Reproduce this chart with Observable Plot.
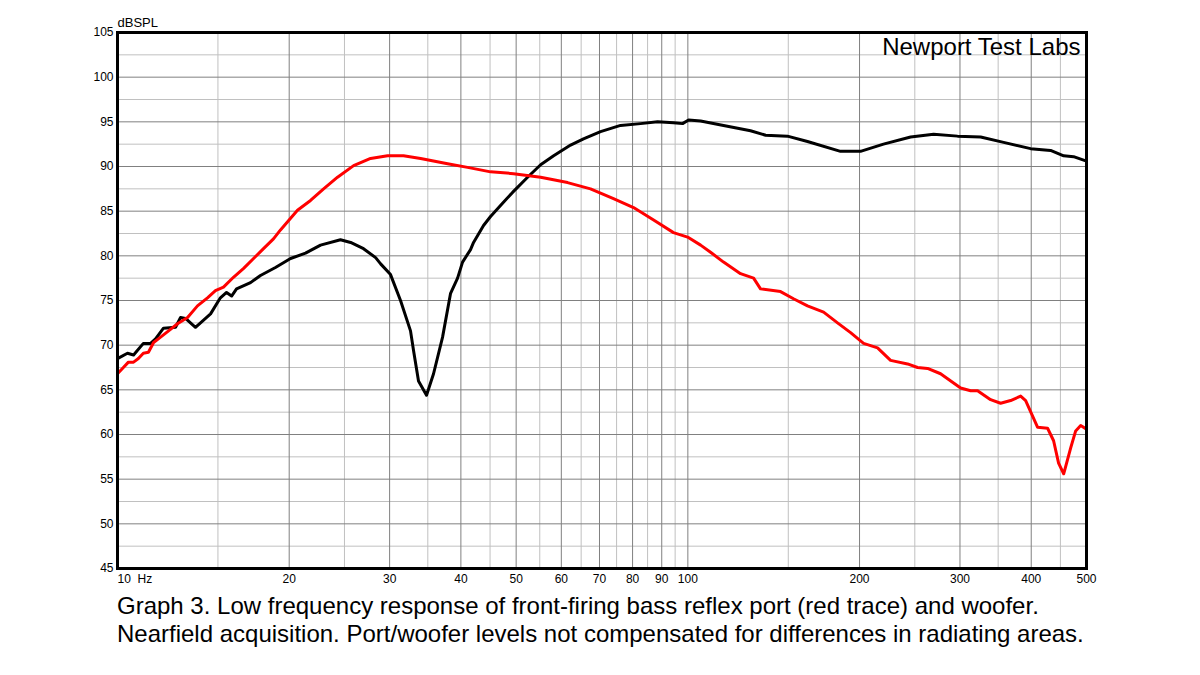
<!DOCTYPE html>
<html>
<head>
<meta charset="utf-8">
<script src="https://cdn.jsdelivr.net/npm/d3@7"></script>
<script src="https://cdn.jsdelivr.net/npm/@observablehq/plot@0.6"></script>
<style>
  body { margin: 0; background: #fff; font-family: "Liberation Sans", Arial, Helvetica, sans-serif; }
  #caption { margin-left: 117px; font-size: 24px; line-height: 28px; color: #000; margin-top: 2px; white-space: nowrap; }
</style>
</head>
<body>
<div id="chart"></div>
<div id="caption">Graph 3. Low frequency response of front-firing bass reflex port (red trace) and woofer.<br>Nearfield acquisition. Port/woofer levels not compensated for differences in radiating areas.</div>
<script>
// Woofer (black trace): frequency (Hz) and level (dB SPL)
const wooferFreq = [10, 10.41, 10.67, 11.10, 11.43, 11.66, 12.04, 12.64, 12.90, 13.16, 13.70, 14.56, 15.15, 15.53, 15.85, 16.17, 17.11, 17.81, 18.92, 20.11, 21.36, 22.70, 24.60, 25.63, 27.00, 28.35, 28.93, 30.11, 31.35, 32.64, 33.04, 33.71, 34.82, 35.82, 37.15, 38.37, 39.47, 40.27, 41.59, 42.10, 43.83, 45.09, 47.33, 49.28, 52.36, 55.19, 58.17, 62.29, 65.62, 70.30, 76.21, 82.61, 88.49, 94.38, 97.88, 100.3, 105.3, 115.5, 128.8, 136.9, 149.5, 162.1, 185.2, 200.8, 220.3, 245.8, 269.7, 297.1, 326.1, 357.8, 399.0, 432.5, 456.0, 474.6, 500];
const wooferDb = [68.5, 69.1, 68.9, 70.2, 70.2, 70.7, 71.9, 72.0, 73.1, 73.0, 72.0, 73.5, 75.3, 75.9, 75.5, 76.3, 77.0, 77.8, 78.7, 79.7, 80.3, 81.2, 81.8, 81.5, 80.8, 79.8, 79.1, 77.9, 75.0, 71.6, 69.4, 66.0, 64.4, 66.8, 70.9, 75.8, 77.5, 79.3, 80.7, 81.5, 83.4, 84.4, 85.9, 87.1, 88.8, 90.2, 91.2, 92.4, 93.1, 93.9, 94.6, 94.8, 95.0, 94.9, 94.8, 95.2, 95.1, 94.6, 94.0, 93.5, 93.4, 92.8, 91.7, 91.7, 92.5, 93.3, 93.6, 93.4, 93.3, 92.7, 92.0, 91.8, 91.2, 91.1, 90.6];

// Port (red trace): frequency (Hz) and level (dB SPL)
const portFreq = [10, 10.24, 10.45, 10.67, 10.88, 11.10, 11.33, 11.57, 11.90, 12.29, 12.74, 13.27, 13.81, 14.38, 14.85, 15.34, 15.97, 16.64, 17.32, 18.03, 18.77, 19.31, 20.68, 21.80, 22.98, 24.31, 25.94, 27.78, 29.75, 31.73, 34.00, 37.91, 41.09, 45.09, 49.48, 55.19, 61.53, 67.50, 74.06, 80.31, 87.09, 94.38, 99.89, 105.3, 109.6, 115.5, 123.7, 130.4, 134.1, 145.4, 153.2, 162.1, 173.0, 183.0, 192.9, 203.3, 215.1, 226.7, 242.8, 252.8, 263.2, 277.4, 300.8, 313.2, 322.1, 339.5, 353.5, 368.1, 383.3, 391.1, 410.5, 427.3, 437.8, 446.7, 456.0, 469.1, 478.6, 488.4, 500];
const portDb = [66.8, 67.5, 68.1, 68.1, 68.5, 69.1, 69.2, 70.3, 70.9, 71.6, 72.4, 73.1, 74.4, 75.3, 76.1, 76.5, 77.6, 78.6, 79.7, 80.8, 81.9, 82.9, 85.1, 86.2, 87.5, 88.8, 90.1, 90.9, 91.2, 91.2, 90.9, 90.3, 89.9, 89.4, 89.2, 88.8, 88.2, 87.5, 86.4, 85.4, 84.0, 82.6, 82.1, 81.2, 80.4, 79.3, 78.0, 77.5, 76.3, 76.0, 75.2, 74.4, 73.7, 72.5, 71.4, 70.2, 69.7, 68.3, 67.9, 67.5, 67.4, 66.8, 65.2, 64.9, 64.9, 63.9, 63.5, 63.8, 64.3, 63.8, 60.8, 60.7, 59.3, 56.8, 55.6, 58.5, 60.4, 61.0, 60.6];

// Axis ticks and grid
const xTickLabels = [20, 30, 40, 50, 60, 70, 80, 90, 100, 200, 300, 400, 500];
const xMajorGrid = [20, 30, 40, 50, 60, 70, 80, 90, 100, 200, 300, 400];
const xMinorGrid = [15, 25, 35, 45, 55, 65, 75, 85, 95, 150, 250, 350, 450];
const yTicks = [45, 50, 55, 60, 65, 70, 75, 80, 85, 90, 95, 100, 105];
const yMinorGrid = [47.5, 52.5, 57.5, 62.5, 67.5, 72.5, 77.5, 82.5, 87.5, 92.5, 97.5, 102.5];

const woofer = wooferFreq.map((f, i) => ({f, db: wooferDb[i]}));
const port = portFreq.map((f, i) => ({f, db: portDb[i]}));

const font = "'Liberation Sans', Arial, Helvetica, sans-serif";

const chart = Plot.plot({
  width: 1200,
  height: 590,
  marginLeft: 117,
  marginRight: 114,
  marginTop: 32,
  marginBottom: 22,
  style: {fontFamily: font, fontSize: "12px", color: "#000", background: "#fff"},
  x: {type: "log", domain: [10, 500], axis: null},
  y: {domain: [45, 105]},
  marks: [
    Plot.ruleX(xMinorGrid, {stroke: "#c0c0c0", strokeWidth: 1}),
    Plot.ruleY(yMinorGrid, {stroke: "#c0c0c0", strokeWidth: 1}),
    Plot.ruleX(xMajorGrid, {stroke: "#808080", strokeWidth: 1}),
    Plot.ruleY(yTicks, {stroke: "#808080", strokeWidth: 1}),
    Plot.line(woofer, {x: "f", y: "db", stroke: "#000", strokeWidth: 3, strokeLinejoin: "round"}),
    Plot.line(port, {x: "f", y: "db", stroke: "#ff0000", strokeWidth: 3, strokeLinejoin: "round"}),
    Plot.frame({stroke: "#000", strokeWidth: 3}),
    Plot.axisY({ticks: yTicks, tickSize: 0, tickPadding: 4, label: null, fontSize: 12}),
    Plot.text(xTickLabels, {x: d => d, frameAnchor: "bottom", text: d => String(d), textAnchor: "middle", lineAnchor: "top", dy: 6, fontSize: 12}),
    Plot.text([10], {x: d => d, frameAnchor: "bottom", text: () => "10\u00a0\u00a0Hz", textAnchor: "start", lineAnchor: "top", dy: 6, fontSize: 12}),
    Plot.text(["dBSPL"], {frameAnchor: "top-left", text: d => d, textAnchor: "start", lineAnchor: "bottom", dy: -6, fontSize: 13}),
    Plot.text(["Newport Test Labs"], {frameAnchor: "top-right", text: d => d, textAnchor: "end", lineAnchor: "top", dx: -6, dy: 5, fontSize: 24})
  ]
});
document.getElementById("chart").appendChild(chart);
</script>
</body>
</html>
